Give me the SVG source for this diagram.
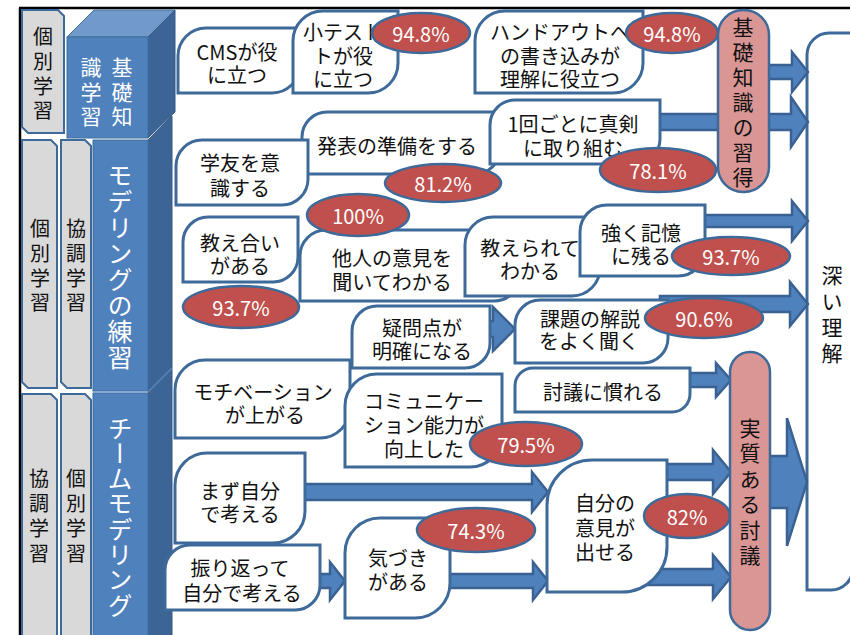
<svg xmlns="http://www.w3.org/2000/svg" width="850" height="635" viewBox="0 0 850 635">
<style>
.box{fill:#fff;stroke:#3e6a9a;stroke-width:3}
.pct{fill:#c0504d;stroke:#3e6a9a;stroke-width:2.5}
.pill{fill:#d99694;stroke:#3e6a9a;stroke-width:2.5}
.gray{fill:#d9d9d9;stroke:#3e6a9a;stroke-width:2}
.arr{fill:#4f81bd;stroke:#3a6192;stroke-width:2.5;stroke-linejoin:miter}
.t{font-family:"Noto Sans CJK JP","Noto Sans",sans-serif;font-size:20px;fill:#111;text-anchor:middle;dominant-baseline:central}
.tp{font-family:"Noto Sans CJK JP","Noto Sans",sans-serif;font-size:20px;fill:#fff;text-anchor:middle;dominant-baseline:central}
.v{font-family:"Noto Sans CJK JP",sans-serif;writing-mode:vertical-rl;fill:#111}
.vw{font-family:"Noto Sans CJK JP",sans-serif;writing-mode:vertical-rl;fill:#fff}
</style>
<rect width="850" height="635" fill="#fff"/>
<g id="frame" stroke="#000" stroke-width="2.5">
<line x1="19" y1="8" x2="850" y2="8"/>
<line x1="20" y1="8" x2="20" y2="635"/>
</g>

<g id="col-kobetsu-top">
<path class="gray" d="M22 10 H58 L64 16 V133 H28 L22 127 Z"/>
<text class="v" font-size="20" x="43" y="26 51 76 100">個別学習</text>
</g>
<g id="col-kobetsu-mid">
<path class="gray" d="M22 140 H51 L57 146 V388 H28 L22 382 Z"/>
<text class="v" font-size="20" x="40" y="218 243 268 292">個別学習</text>
</g>
<g id="col-kyocho-mid">
<path class="gray" d="M61 140 H85 L91 146 V388 H67 L61 382 Z"/>
<text class="v" font-size="20" x="76" y="218 243 268 292">協調学習</text>
</g>
<g id="col-kyocho-bot">
<path class="gray" d="M22 394 H51 L57 400 V640 H22 Z"/>
<text class="v" font-size="20" x="39" y="468 493 518 543">協調学習</text>
</g>
<g id="col-kobetsu-bot">
<path class="gray" d="M61 394 H85 L91 400 V640 H61 Z"/>
<text class="v" font-size="20" x="76" y="468 493 518 543">個別学習</text>
</g>

<g id="blue-column">
<polygon points="148,140 172,116 172,640 148,640" fill="#3c6596" stroke="#36598a" stroke-width="1"/>
<line x1="148" y1="392" x2="172" y2="368" stroke="#5a86ba" stroke-width="1.5"/>
<rect x="93" y="140" width="55" height="251" fill="#4f81bd" stroke="#41719c" stroke-width="1"/>
<rect x="93" y="393" width="55" height="247" fill="#4f81bd" stroke="#41719c" stroke-width="1"/>
<line x1="93" y1="392" x2="148" y2="392" stroke="#7ea3d0" stroke-width="1.5"/>
<text class="vw" font-size="25" x="120" y="162.5 188.5 214.5 240.5 266.5 292.5 318.5 344.5">モデリングの練習</text>
<text class="vw" font-size="25" x="120" y="415.5 440.8 466.1 491.4 516.7 542 567.3 592.6">チームモデリング</text>
</g>
<g id="kiso-cube">
<polygon points="67,37 94,10 175,10 148,37" fill="#7199ca" stroke="#41719c" stroke-width="1"/>
<polygon points="148,37 175,10 175,112 148,138" fill="#3c6596" stroke="#36598a" stroke-width="1"/>
<rect x="67" y="37" width="81" height="101" fill="#4f81bd" stroke="#41719c" stroke-width="1"/>
<text class="vw" font-size="21" x="122" y="56.5 81.5 105.5">基礎知</text>
<text class="vw" font-size="21" x="91" y="56.5 81.5 105.5">識学習</text>
</g>

<g id="fukai-rikai">
<path class="box" d="M829 33 H853 V568 A22 22 0 0 1 831 590 H807 V55 A22 22 0 0 1 829 33 Z"/>
<text class="v" font-size="21" x="832" y="264.5 290.5 316.5 342.5">深い理解</text>
</g>

<g id="connectors">
<polygon class="arr" points="760,65 792,65 792,52 808,72 792,92 792,79 760,79"/>
<polygon class="arr" points="655,114 791,114 791,97 808,122 791,147 791,130 655,130"/>
<polygon class="arr" points="700,215 792,215 792,201 808,221 792,241 792,227 700,227"/>
<polygon class="arr" points="660,296 790,296 790,282 808,304 790,326 790,312 660,312"/>
<polygon class="arr" points="685,373 716,373 716,363 731,380 716,397 716,387 685,387"/>
<polygon class="arr" points="765,456 787,456 787,418 807,482 787,546 787,508 765,508"/>
<polygon class="arr" points="660,464 713,464 713,450 731,472 713,494 713,480 660,480"/>
<polygon class="arr" points="640,569 713,569 713,555 731,577 713,599 713,585 640,585"/>
<polygon class="arr" points="300,484 532,484 532,472 548,492 532,512 532,500 300,500"/>
<polygon class="arr" points="445,574 533,574 533,562 548,581 533,600 533,588 445,588"/>
<polygon class="arr" points="310,574 330,574 330,562 345,581 330,600 330,588 310,588"/>
<polygon class="arr" points="468,321 493,321 493,307 515,329 493,351 493,337 468,337"/>
</g>

<g id="n-cms">
<path class="box" d="M206 28 H300 V65 A28 28 0 0 1 272 93 H178 V56 A28 28 0 0 1 206 28 Z"/>
<text class="t"><tspan x="237" y="51">CMSが役</tspan><tspan x="237" y="74">に立つ</tspan></text>
</g>
<g id="n-shotest">
<path class="box" d="M323 11 H398 V63 A30 30 0 0 1 368 93 H293 V41 A30 30 0 0 1 323 11 Z"/>
<text class="t"><tspan x="343" y="31">小テスト</tspan><tspan x="343" y="55">トが役</tspan><tspan x="343" y="78">に立つ</tspan></text>
</g>
<g id="p-948a">
<ellipse class="pct" cx="421" cy="33" rx="49" ry="20"/>
<text class="tp" x="421" y="33">94.8%</text>
</g>
<g id="n-handout">
<path class="box" d="M505 11 H643 V63 A30 30 0 0 1 613 93 H475 V41 A30 30 0 0 1 505 11 Z"/>
<text class="t"><tspan x="560" y="31">ハンドアウトへ</tspan><tspan x="560" y="55">の書き込みが</tspan><tspan x="560" y="78">理解に役立つ</tspan></text>
</g>
<g id="p-948b">
<ellipse class="pct" cx="672" cy="33" rx="46" ry="20"/>
<text class="tp" x="672" y="33">94.8%</text>
</g>
<g id="n-happyo">
<path class="box" d="M327 112 H500 V149 A25 25 0 0 1 475 174 H302 V137 A25 25 0 0 1 327 112 Z"/>
<text class="t" x="397" y="145">発表の準備をする</text>
</g>
<g id="n-gakuyu">
<path class="box" d="M202 140 H308 V179 A26 26 0 0 1 282 205 H176 V166 A26 26 0 0 1 202 140 Z"/>
<text class="t"><tspan x="240" y="162">学友を意</tspan><tspan x="240" y="187">識する</tspan></text>
</g>
<g id="n-ikkai">
<path class="box" d="M515 100 H660 V139 A25 25 0 0 1 635 164 H490 V125 A25 25 0 0 1 515 100 Z"/>
<text class="t"><tspan x="573" y="123">1回ごとに真剣</tspan><tspan x="573" y="147">に取り組む</tspan></text>
</g>
<g id="p-812">
<ellipse class="pct" cx="443" cy="183" rx="58" ry="19"/>
<text class="tp" x="443" y="183">81.2%</text>
</g>
<g id="p-781">
<ellipse class="pct" cx="658" cy="170" rx="58" ry="22"/>
<text class="tp" x="658" y="170">78.1%</text>
</g>
<g id="n-tanin">
<path class="box" d="M326 230 H520 V275 A26 26 0 0 1 494 301 H300 V256 A26 26 0 0 1 326 230 Z"/>
<text class="t"><tspan x="392" y="257">他人の意見を</tspan><tspan x="392" y="281">聞いてわかる</tspan></text>
</g>
<g id="p-100">
<ellipse class="pct" cx="358" cy="215" rx="51" ry="21"/>
<text class="tp" x="358" y="215">100%</text>
</g>
<g id="n-oshierarete">
<path class="box" d="M493 217 H600 V268 A28 28 0 0 1 572 296 H465 V245 A28 28 0 0 1 493 217 Z"/>
<text class="t"><tspan x="530" y="247">教えられて</tspan><tspan x="530" y="270">わかる</tspan></text>
</g>
<g id="n-tsuyoku">
<path class="box" d="M607 205 H705 V249 A27 27 0 0 1 678 276 H580 V232 A27 27 0 0 1 607 205 Z"/>
<text class="t"><tspan x="641" y="232">強く記憶</tspan><tspan x="641" y="255">に残る</tspan></text>
</g>
<g id="p-937b">
<ellipse class="pct" cx="731" cy="256" rx="59" ry="19"/>
<text class="tp" x="731" y="256">93.7%</text>
</g>
<g id="n-oshieai">
<path class="box" d="M208 217 H298 V257 A25 25 0 0 1 273 282 H183 V242 A25 25 0 0 1 208 217 Z"/>
<text class="t"><tspan x="240" y="242">教え合い</tspan><tspan x="240" y="265">がある</tspan></text>
</g>
<g id="p-937a">
<ellipse class="pct" cx="241" cy="307" rx="58" ry="21"/>
<text class="tp" x="241" y="307">93.7%</text>
</g>
<g id="n-motivation">
<path class="box" d="M205 360 H350 V408 A30 30 0 0 1 320 438 H175 V390 A30 30 0 0 1 205 360 Z"/>
<text class="t"><tspan x="263" y="391">モチベーション</tspan><tspan x="265" y="414">が上がる</tspan></text>
</g>
<g id="n-gimon">
<path class="box" d="M377 306 H490 V343 A25 25 0 0 1 465 368 H352 V331 A25 25 0 0 1 377 306 Z"/>
<text class="t"><tspan x="422" y="327">疑問点が</tspan><tspan x="422" y="350">明確になる</tspan></text>
</g>
<g id="n-kadai">
<path class="box" d="M540 300 H668 V338 A25 25 0 0 1 643 363 H515 V325 A25 25 0 0 1 540 300 Z"/>
<text class="t"><tspan x="590" y="318">課題の解説</tspan><tspan x="589" y="340">をよく聞く</tspan></text>
</g>
<g id="p-906">
<ellipse class="pct" cx="704" cy="318" rx="59" ry="20"/>
<text class="tp" x="704" y="318">90.6%</text>
</g>
<g id="n-comm">
<path class="box" d="M377 374 H502 V435 A32 32 0 0 1 470 467 H345 V406 A32 32 0 0 1 377 374 Z"/>
<text class="t"><tspan x="424" y="400">コミュニケー</tspan><tspan x="424" y="424">ション能力が</tspan><tspan x="424" y="448">向上した</tspan></text>
</g>
<g id="n-togi">
<path class="box" d="M533 368 H690 V394 A18 18 0 0 1 672 412 H515 V386 A18 18 0 0 1 533 368 Z"/>
<text class="t" x="603" y="391">討議に慣れる</text>
</g>
<g id="p-795">
<ellipse class="pct" cx="526" cy="444" rx="56" ry="22"/>
<text class="tp" x="526" y="444">79.5%</text>
</g>
<g id="n-mazu">
<path class="box" d="M207 453 H305 V511 A32 32 0 0 1 273 543 H175 V485 A32 32 0 0 1 207 453 Z"/>
<text class="t"><tspan x="240" y="490">まず自分</tspan><tspan x="240" y="513">で考える</tspan></text>
</g>
<g id="n-furikaette">
<path class="box" d="M190 545 H320 V585 A25 25 0 0 1 295 610 H165 V570 A25 25 0 0 1 190 545 Z"/>
<text class="t"><tspan x="240" y="567">振り返って</tspan><tspan x="242" y="592">自分で考える</tspan></text>
</g>
<g id="n-kizuki">
<path class="box" d="M380 518 H450 V583 A35 35 0 0 1 415 618 H345 V553 A35 35 0 0 1 380 518 Z"/>
<text class="t"><tspan x="398" y="557">気づき</tspan><tspan x="398" y="581">がある</tspan></text>
</g>
<g id="p-743">
<ellipse class="pct" cx="476" cy="530" rx="59" ry="22"/>
<text class="tp" x="476" y="530">74.3%</text>
</g>
<g id="n-jibun">
<path class="box" d="M592 460 H667 V547 A45 45 0 0 1 622 592 H547 V505 A45 45 0 0 1 592 460 Z"/>
<text class="t"><tspan x="605" y="502">自分の</tspan><tspan x="605" y="527">意見が</tspan><tspan x="605" y="551">出せる</tspan></text>
</g>
<g id="p-82">
<ellipse class="pct" cx="687" cy="516" rx="43" ry="22"/>
<text class="tp" x="687" y="516">82%</text>
</g>
<g id="pill-kiso">
<rect class="pill" x="718" y="10" width="51" height="182" rx="25" ry="25"/>
<text class="v" font-size="21" x="743" y="16.5 41.5 66.5 91.5 116.5 141.5 166.5">基礎知識の習得</text>
</g>
<g id="pill-jisshitsu">
<rect class="pill" x="730" y="352" width="40" height="278" rx="20" ry="20"/>
<text class="v" font-size="21" x="750" y="417.5 443 468.5 494 519.5 544.5">実質ある討議</text>
</g>
</svg>
